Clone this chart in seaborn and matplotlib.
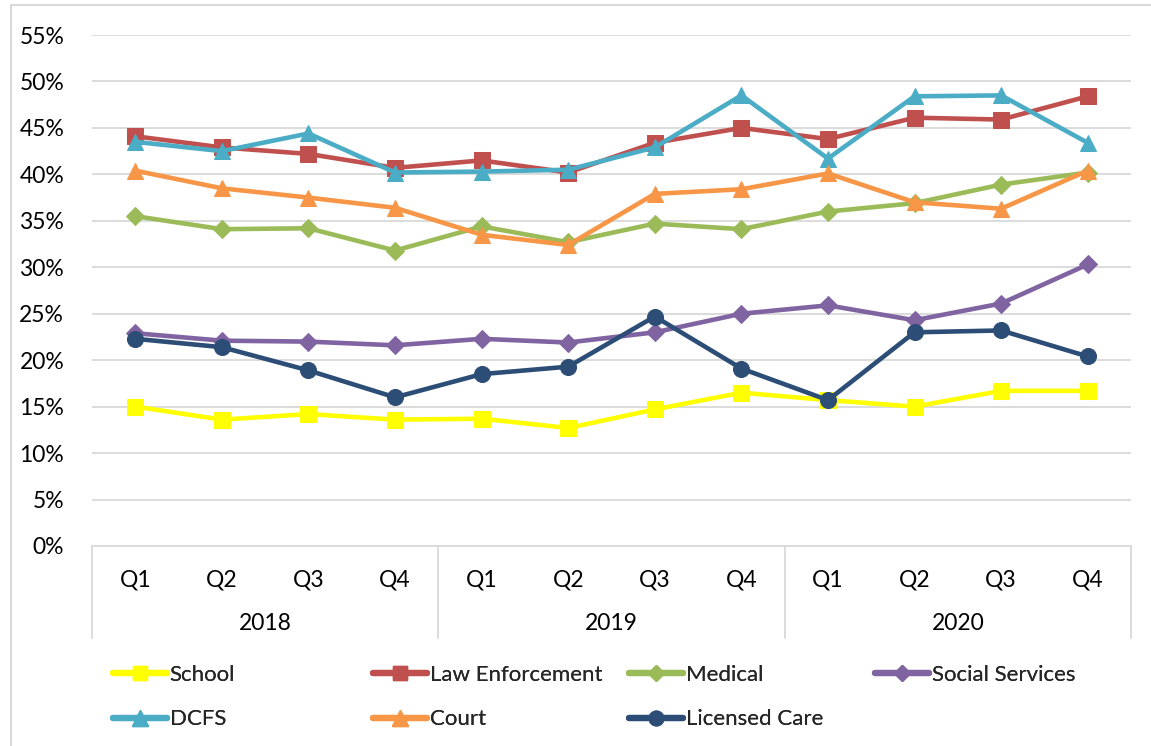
import matplotlib
matplotlib.use("Agg")
import matplotlib.pyplot as plt
import matplotlib.transforms as mtransforms
from matplotlib.lines import Line2D
from matplotlib.patches import Rectangle
import seaborn as sns
import pandas as pd

years = ["2018", "2019", "2020"]
quarters = ["Q1", "Q2", "Q3", "Q4"]

school = [15.0, 13.6, 14.2, 13.6, 13.7, 12.7, 14.7, 16.5, 15.7, 15.0, 16.7, 16.7]
law_enforcement = [44.1, 42.9, 42.2, 40.7, 41.5, 40.2, 43.4, 45.0, 43.8, 46.1, 45.9, 48.4]
medical = [35.5, 34.1, 34.2, 31.8, 34.4, 32.7, 34.7, 34.1, 36.0, 36.9, 38.9, 40.2]
social_services = [22.9, 22.1, 22.0, 21.6, 22.3, 21.9, 23.0, 25.0, 25.9, 24.3, 26.1, 30.3]
dcfs = [43.5, 42.5, 44.4, 40.2, 40.3, 40.5, 42.9, 48.5, 41.7, 48.4, 48.5, 43.4]
court = [40.4, 38.5, 37.5, 36.4, 33.5, 32.4, 37.9, 38.4, 40.1, 37.0, 36.3, 40.4]
licensed_care = [22.3, 21.4, 18.9, 16.0, 18.5, 19.3, 24.7, 19.1, 15.7, 23.0, 23.2, 20.4]

series_names = ["School", "Law Enforcement", "Medical", "Social Services",
                "DCFS", "Court", "Licensed Care"]
series_values = [school, law_enforcement, medical, social_services,
                 dcfs, court, licensed_care]

colors = {"School": "#FFFF00", "Law Enforcement": "#C0504D", "Medical": "#9BBB59",
          "Social Services": "#8064A2", "DCFS": "#4BACC6", "Court": "#F79646",
          "Licensed Care": "#2C4D75"}
markers = {"School": "s", "Law Enforcement": "s", "Medical": "D",
           "Social Services": "D", "DCFS": "^", "Court": "^", "Licensed Care": "o"}
msizes = {"School": 11, "Law Enforcement": 11, "Medical": 9,
          "Social Services": 9, "DCFS": 12, "Court": 12, "Licensed Care": 11.5}

rows = []
for name, vals in zip(series_names, series_values):
    for i, v in enumerate(vals):
        rows.append({"series": name, "idx": i, "value": v})
df = pd.DataFrame(rows)

sns.set_style("white")
plt.rcParams["font.family"] = ["Lato", "DejaVu Sans"]

W, H = 1151, 746
fig = plt.figure(figsize=(W / 100, H / 100), dpi=100)
L, R, T, B = 92, 1131, 35, 546
ax = fig.add_axes([L / W, 1 - B / H, (R - L) / W, (B - T) / H])

grid_c = "#D9D9D9"
for yv in range(5, 60, 5):
    ax.axhline(yv, color=grid_c, lw=1.3, zorder=0)

for name in series_names:
    sub = df[df["series"] == name]
    sns.lineplot(data=sub, x="idx", y="value", ax=ax, color=colors[name],
                 marker=markers[name], markersize=msizes[name],
                 markeredgecolor=colors[name], linewidth=3.3, label=name,
                 legend=False, zorder=3)

FS = 16.5
ax.set_xlim(-0.5, 11.5)
ax.set_ylim(0, 55)
ax.set_yticks(range(0, 60, 5))
ax.set_yticklabels([f"{v}%" for v in range(0, 60, 5)], fontsize=FS, color="#000000")
ax.set_xticks(range(12))
ax.set_xticklabels(quarters * 3, fontsize=FS, color="#000000")
ax.tick_params(axis="both", length=0)
ax.tick_params(axis="y", pad=20)
ax.tick_params(axis="x", pad=17)
ax.set_xlabel("")
ax.set_ylabel("")
for s in ["top", "right", "left"]:
    ax.spines[s].set_visible(False)
ax.spines["bottom"].set_color(grid_c)
ax.spines["bottom"].set_linewidth(1.3)

trans = mtransforms.blended_transform_factory(ax.transData, ax.transAxes)
sep_bottom = -(638 - B) / (B - T)
for xv in [-0.5, 3.5, 7.5, 11.5]:
    ax.add_line(Line2D([xv, xv], [0, sep_bottom], transform=trans, color=grid_c,
                       lw=1.3, clip_on=False))
year_y = -(623 - B) / (B - T)
for k, yr in enumerate(years):
    ax.text(k * 4 + 1.5, year_y, yr, transform=trans, ha="center", va="center",
            fontsize=FS, color="#000000")

# legend, arranged in four equal columns like the original
col_x = [113, 373, 629, 875]
row_groups = [["School", "DCFS"], ["Law Enforcement", "Court"],
              ["Medical", "Licensed Care"], ["Social Services"]]
for cx, group in zip(col_x, row_groups):
    handles = [Line2D([], [], color=colors[n], marker=markers[n], markersize=msizes[n] - 1,
                      markeredgecolor=colors[n], lw=4.5, solid_capstyle="round")
               for n in group]
    leg = fig.legend(handles, group, loc="upper left",
                     bbox_to_anchor=(cx / W, 1 - 665 / H), frameon=False,
                     fontsize=16, handlelength=2.45, handletextpad=0.1,
                     labelspacing=1.1, borderpad=0, borderaxespad=0)
    fig.add_artist(leg)

fig.patches.append(Rectangle((11 / W, -0.1), 1.2, (H - 5) / H + 0.1,
                             transform=fig.transFigure, fill=False,
                             edgecolor=grid_c, lw=1.5))

fig.savefig("out.png", dpi=100, facecolor="white")
